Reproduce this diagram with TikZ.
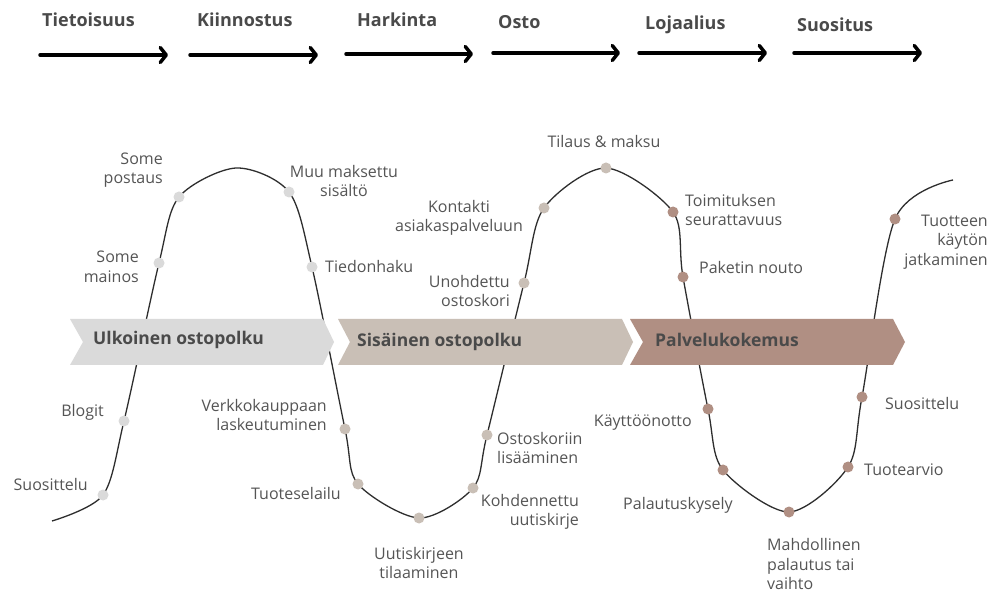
\documentclass[tikz,border=0pt]{standalone}
\usepackage{fontspec}
\setmainfont{Open Sans}
\usetikzlibrary{positioning,arrows.meta}
\definecolor{txtgray}{HTML}{555555}
\definecolor{hdrgray}{HTML}{4A4A4A}
\definecolor{ulkofill}{HTML}{DADADA}
\definecolor{sisafill}{HTML}{C9BFB6}
\definecolor{palvfill}{HTML}{B08F83}
\definecolor{pathgray}{HTML}{2E2E2E}
\pgfdeclarelayer{bg}
\pgfsetlayers{bg,main}

\tikzset{
  phase/.style={font=\bfseries\fontsize{18}{21}\selectfont, text=hdrgray, anchor=west, inner sep=0pt},
  phasearrow/.style={line width=3.5pt, line cap=round, -{Straight Barb[length=6pt,width=15pt,round]}},
  band/.style={font=\bfseries\fontsize{17.5}{21}\selectfont, text=hdrgray, anchor=west, inner sep=0pt},
  dot/.style={circle, inner sep=0pt, minimum size=11pt},
  lbl/.style={font=\fontsize{16}{19.5}\selectfont, text=txtgray, inner sep=0pt},
  journey/.style={line width=1.3pt, pathgray},
}

\begin{document}
\begin{tikzpicture}[x=1pt,y=-1pt]
  \useasboundingbox (0,0) rectangle (991,593);

  % phases on top
  \node[phase] (tieto) at (42,20) {Tietoisuus};
  \node[phase] (kiinn) at (197,20) {Kiinnostus};
  \node[phase] (hark) at (357,20) {Harkinta};
  \node[phase] (osto) at (498,22) {Osto};
  \node[phase] (lojaal) at (645,25) {Lojaalius};
  \node[phase] (suosit) at (797,25) {Suositus};

  \foreach \n/\xa/\xb/\y in {tieto/40/168/55, kiinn/190/318/55, hark/346/473/54,
                             osto/493/620/53, lojaal/639/767/53, suosit/794/922/53} {
    \coordinate (\n-s) at (\xa,\y);
    \coordinate (\n-e) at (\xb,\y);
    \draw[phasearrow] (\n-s) -- (\n-e);
  }

  % chevrons
  \fill[ulkofill] (70,319) -- (323,319) -- (334,342) -- (323,365) -- (70,365) -- (83,342) -- cycle;
  \fill[sisafill] (338,319) -- (622,319) -- (633,342) -- (622,365) -- (338,365) -- (350,342) -- cycle;
  \fill[palvfill] (630,319) -- (893,319) -- (905,342) -- (893,365) -- (630,365) -- (643,342) -- cycle;
  \node[band] (ulko) at (93,340) {Ulkoinen ostopolku};
  \node[band] (sisa) at (357,342) {Sisäinen ostopolku};
  \node[band] (palv) at (655,340) {Palvelukokemus};

  % touchpoints
  \coordinate (cstart) at (52,521);
  \node[dot, fill=ulkofill] (suos1) at (103,495) {};
  \node[dot, fill=ulkofill] (blogit) at (124,421) {};
  \node[dot, fill=ulkofill] (mainos) at (159,263) {};
  \node[dot, fill=ulkofill] (postaus) at (179,197) {};
  \coordinate (peak1) at (236,168);
  \node[dot, fill=ulkofill] (muu) at (289,192) {};
  \node[dot, fill=ulkofill] (tiedon) at (312,267) {};
  \node[dot, fill=sisafill] (verkko) at (345,429) {};
  \node[dot, fill=sisafill] (tuotesel) at (358,484) {};
  \node[dot, fill=sisafill] (uutis) at (419,518) {};
  \node[dot, fill=sisafill] (kohd) at (473,488) {};
  \node[dot, fill=sisafill] (ostosk) at (487,435) {};
  \node[dot, fill=sisafill] (unoh) at (524,283) {};
  \node[dot, fill=sisafill] (kontakti) at (544,208) {};
  \node[dot, fill=sisafill] (tilaus) at (606,168) {};
  \node[dot, fill=palvfill] (toimit) at (673,212) {};
  \node[dot, fill=palvfill] (paketti) at (683,277) {};
  \node[dot, fill=palvfill] (kaytto) at (708,409) {};
  \node[dot, fill=palvfill] (palaut) at (723,470) {};
  \node[dot, fill=palvfill] (mahd) at (789,512) {};
  \node[dot, fill=palvfill] (arvio) at (848,467) {};
  \node[dot, fill=palvfill] (suos2) at (862,397) {};
  \node[dot, fill=palvfill] (tuotteen) at (895,219) {};
  \coordinate (cend) at (953,180);

  \begin{pgfonlayer}{bg}
    \fill[white] (0,0) rectangle (991,593);
    \draw[journey] plot[smooth, tension=0.5] coordinates {(cstart) (suos1.center) (blogit.center)
      (mainos.center) (postaus.center) (peak1) (muu.center) (tiedon.center) (verkko.center)
      (tuotesel.center) (uutis.center) (kohd.center) (ostosk.center) (unoh.center)
      (kontakti.center) (tilaus.center) (toimit.center) (paketti.center) (kaytto.center)
      (palaut.center) (mahd.center) (arvio.center) (suos2.center) (tuotteen.center) (cend)};
  \end{pgfonlayer}

  % labels
  \node[lbl, anchor=east] (suos1-l) at (88,484) {Suosittelu};
  \node[lbl, anchor=east] (blogit-l) at (104,412) {Blogit};
  \node[lbl, anchor=east, align=right] (mainos-l) at (139,267) {Some\\mainos};
  \node[lbl, anchor=east, align=right] (postaus-l) at (163,170) {Some\\postaus};
  \node[lbl, align=center] (muu-l) at (344,181) {Muu maksettu\\sisältö};
  \node[lbl, anchor=west] (tiedon-l) at (325,267) {Tiedonhaku};
  \node[lbl, anchor=east, align=right] (verkko-l) at (327,415) {Verkkokauppaan\\laskeutuminen};
  \node[lbl, anchor=east] (tuotesel-l) at (341,493) {Tuoteselailu};
  \node[lbl, align=center] (uutis-l) at (419,563) {Uutiskirjeen\\tilaaminen};
  \node[lbl, anchor=east, align=right] (kohd-l) at (579,512) {Kohdennettu\\uutiskirje};
  \node[lbl, anchor=west, align=left] (ostosk-l) at (497,448) {Ostoskoriin\\lisääminen};
  \node[lbl, anchor=east, align=right] (unoh-l) at (510,291) {Unohdettu\\ostoskori};
  \node[lbl, align=center] (kontakti-l) at (459,218) {Kontakti\\asiakaspalveluun};
  \node[lbl] (tilaus-l) at (604,142) {Tilaus \& maksu};
  \node[lbl, anchor=west, align=left] (toimit-l) at (685,210) {Toimituksen\\seurattavuus};
  \node[lbl, anchor=west] (paketti-l) at (699,268) {Paketin nouto};
  \node[lbl, anchor=east] (kaytto-l) at (692,423) {Käyttöönotto};
  \node[lbl, anchor=east] (palaut-l) at (733,505) {Palautuskysely};
  \node[lbl, anchor=west, align=left] (mahd-l) at (767,564) {Mahdollinen\\palautus tai\\vaihto};
  \node[lbl, anchor=west] (arvio-l) at (864,470) {Tuotearvio};
  \node[lbl, anchor=west] (suos2-l) at (885,404) {Suosittelu};
  \node[lbl, anchor=east, align=right] (tuotteen-l) at (988,242) {Tuotteen\\käytön\\jatkaminen};
\end{tikzpicture}
\end{document}
